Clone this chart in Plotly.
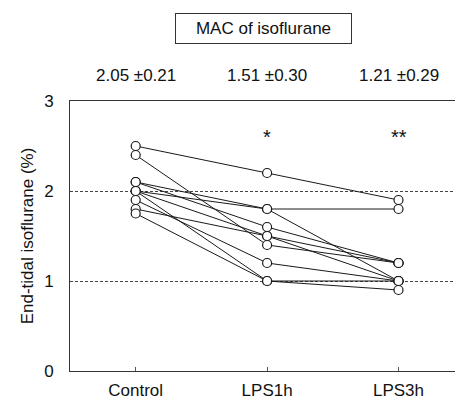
import plotly.graph_objects as go

categories = ["Control", "LPS1h", "LPS3h"]
subjects = [
    [2.5, 2.2, 1.9],
    [2.4, 1.4, 1.2],
    [2.1, 1.8, 1.8],
    [2.1, 1.6, 1.2],
    [2.0, 1.8, 1.0],
    [2.0, 1.5, 1.2],
    [1.9, 1.2, 1.0],
    [1.8, 1.5, 1.0],
    [1.75, 1.0, 0.9],
    [2.0, 1.0, 1.0],
]
mac_labels = ["2.05 \u00b10.21", "1.51 \u00b10.30", "1.21 \u00b10.29"]
sig_labels = ["", "*", "**"]
y_ticks = [0, 1, 2, 3]

FONT = "Liberation Sans, Arial, sans-serif"
FS = 17

fig = go.Figure()
xs = list(range(len(categories)))
for s in subjects:
    fig.add_trace(go.Scatter(
        x=xs, y=s, mode="lines+markers",
        line=dict(color="#1a1a1a", width=1),
        marker=dict(symbol="circle", size=9, color="white",
                    line=dict(color="#1a1a1a", width=1.2)),
        showlegend=False, cliponaxis=False,
    ))

annotations = []
for i, lab in enumerate(mac_labels):
    annotations.append(dict(x=i, y=1.096, xref="x", yref="paper", yanchor="middle",
                            text=lab, showarrow=False, font=dict(size=FS, color="#111")))
for i, lab in enumerate(sig_labels):
    if lab:
        annotations.append(dict(x=i, y=2.6, xref="x", yref="y", yanchor="middle",
                                text=lab, showarrow=False, font=dict(size=20, color="#111")))
annotations.append(dict(x=0.97, y=1.27, xref="x", yref="paper", yanchor="middle",
                        text="MAC of isoflurane",
                        showarrow=False, font=dict(size=FS, color="#111"),
                        bordercolor="#333", borderwidth=1, borderpad=5,
                        bgcolor="white", width=165))

fig.update_layout(
    width=455, height=400,
    margin=dict(l=70, r=0, t=101, b=29),
    paper_bgcolor="white", plot_bgcolor="white",
    font=dict(family=FONT, size=FS, color="#111"),
    annotations=annotations,
    xaxis=dict(
        range=[-0.5, 2.43], tickvals=xs, ticktext=categories,
        showline=True, linecolor="#333", linewidth=1, mirror=True,
        ticks="inside", ticklen=4, tickcolor="#555",
        showgrid=False, zeroline=False, tickfont=dict(size=FS),
        ticklabelstandoff=4, automargin=False,
    ),
    yaxis=dict(
        range=[0, 3], tickvals=y_ticks,
        showline=True, linecolor="#333", linewidth=1, mirror=False,
        ticks="", showgrid=True, gridcolor="#444", griddash="3px,2px", gridwidth=1,
        zeroline=False, tickfont=dict(size=FS), ticklabelstandoff=12,
        title=dict(text="End-tidal isoflurane (%)", font=dict(size=FS), standoff=6),
        automargin=False,
    ),
)

fig.write_html("out.html")
